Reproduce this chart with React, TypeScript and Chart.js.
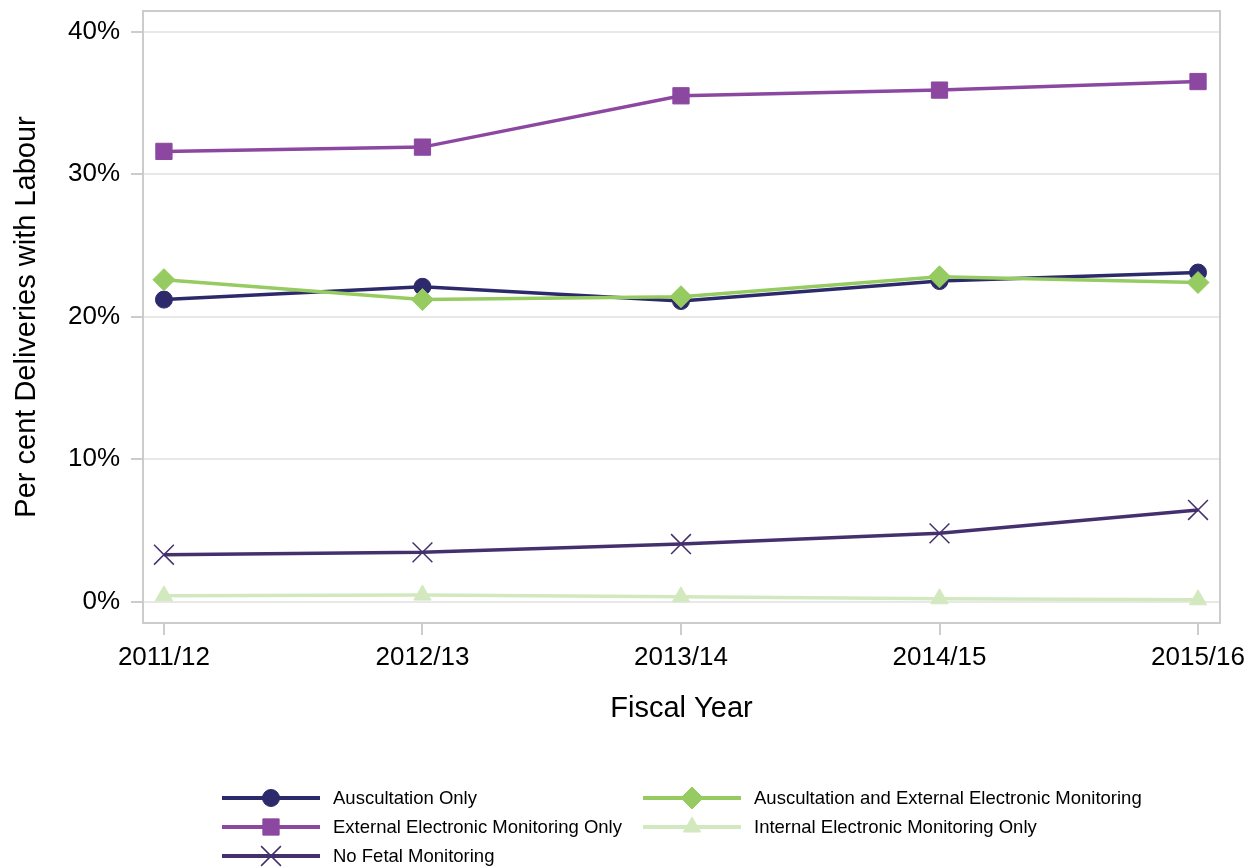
import { useEffect, useRef } from "react";
import { Chart } from "chart.js/auto";
import { drawPoint } from "chart.js/helpers";

const categories = ["2011/12", "2012/13", "2013/14", "2014/15", "2015/16"];
const auscultationOnly = [21.2, 22.1, 21.1, 22.5, 23.1];
const auscAndExternal = [22.6, 21.2, 21.4, 22.8, 22.4];
const externalOnly = [31.6, 31.9, 35.5, 35.9, 36.5];
const internalOnly = [0.42, 0.47, 0.35, 0.21, 0.14];
const noFetal = [3.3, 3.47, 4.05, 4.8, 6.44];
const yTicks = [0, 10, 20, 30, 40];

const FONT = "Liberation Sans, Arial, sans-serif";
const PLOT_TOP = 11;

const toPoints = (vals: number[]) => vals.map((v, i) => ({ x: i, y: v }));

// pin the top of the plot area (chart.js keeps adding label room above it)
const pinTopPlugin = {
  id: "pinTop",
  afterLayout(chart: any) {
    const area = chart.chartArea;
    area.top = PLOT_TOP;
    area.height = area.bottom - PLOT_TOP;
    const y = chart.scales.y;
    y.top = PLOT_TOP;
    y.height = y.bottom - PLOT_TOP;
    y.configure();
  },
};

// draws the plot frame behind the lines
const framePlugin = {
  id: "frame",
  beforeDatasetsDraw(chart: any) {
    const { ctx, chartArea } = chart;
    ctx.save();
    ctx.strokeStyle = "#cccccc";
    ctx.lineWidth = 2;
    ctx.strokeRect(chartArea.left, chartArea.top, chartArea.right - chartArea.left, chartArea.bottom - chartArea.top);
    ctx.restore();
  },
};

// legend laid out in two columns under the axis title
const legendPlugin = {
  id: "bottomLegend",
  afterDraw(chart: any) {
    const { ctx } = chart;
    const slots = [
      { label: "Auscultation Only", col: 0, row: 0 },
      { label: "Auscultation and External Electronic Monitoring", col: 1, row: 0 },
      { label: "External Electronic Monitoring Only", col: 0, row: 1 },
      { label: "Internal Electronic Monitoring Only", col: 1, row: 1 },
      { label: "No Fetal Monitoring", col: 0, row: 2 },
    ];
    const colX = [222, 643];
    ctx.save();
    slots.forEach((s) => {
      const ds = chart.data.datasets.find((d: any) => d.label === s.label);
      if (!ds) return;
      const x0 = colX[s.col];
      const y = 798 + s.row * 29;
      ctx.strokeStyle = ds.borderColor;
      ctx.lineWidth = 4;
      ctx.beginPath();
      ctx.moveTo(x0, y);
      ctx.lineTo(x0 + 98, y);
      ctx.stroke();
      ctx.fillStyle = ds.pointBackgroundColor;
      ctx.strokeStyle = ds.pointBorderColor;
      ctx.lineWidth = ds.pointBorderWidth;
      drawPoint(ctx, { pointStyle: ds.pointStyle, radius: ds.pointRadius, borderWidth: ds.pointBorderWidth, rotation: 0 } as any, x0 + 49, y);
      ctx.fillStyle = "#000000";
      ctx.font = `18.5px ${FONT}`;
      ctx.textBaseline = "middle";
      ctx.textAlign = "left";
      ctx.fillText(s.label, x0 + 111, y + 1);
    });
    ctx.restore();
  },
};

export default function App() {
  const canvasRef = useRef<HTMLCanvasElement | null>(null);
  const chartRef = useRef<Chart | null>(null);

  useEffect(() => {
    if (!canvasRef.current) return;
    if (chartRef.current) chartRef.current.destroy();
    const ctx = canvasRef.current.getContext("2d");
    if (!ctx) return;

    chartRef.current = new Chart(ctx, {
      type: "line",
      data: {
        datasets: [
          {
            label: "Auscultation and External Electronic Monitoring",
            data: toPoints(auscAndExternal),
            borderColor: "#95cb60",
            pointBackgroundColor: "#95cb60",
            pointBorderColor: "#95cb60",
            pointStyle: "rectRot",
            pointRadius: 11,
            pointBorderWidth: 1,
            borderWidth: 3.5,
          },
          {
            label: "Auscultation Only",
            data: toPoints(auscultationOnly),
            borderColor: "#2c2a6b",
            pointBackgroundColor: "#2c2a6b",
            pointBorderColor: "#2c2a6b",
            pointStyle: "circle",
            pointRadius: 8.5,
            pointBorderWidth: 1,
            borderWidth: 3.5,
          },
          {
            label: "External Electronic Monitoring Only",
            data: toPoints(externalOnly),
            borderColor: "#8c48a0",
            pointBackgroundColor: "#8c48a0",
            pointBorderColor: "#8c48a0",
            pointStyle: "rect",
            pointRadius: 11.5,
            pointBorderWidth: 1,
            borderWidth: 3.5,
          },
          {
            label: "Internal Electronic Monitoring Only",
            data: toPoints(internalOnly),
            borderColor: "#d2e9bf",
            pointBackgroundColor: "#d2e9bf",
            pointBorderColor: "#d2e9bf",
            pointStyle: "triangle",
            pointRadius: 10,
            pointBorderWidth: 1,
            borderWidth: 3.5,
          },
          {
            label: "No Fetal Monitoring",
            data: toPoints(noFetal),
            borderColor: "#45306e",
            pointBackgroundColor: "rgba(0,0,0,0)",
            pointBorderColor: "#45306e",
            pointStyle: "crossRot",
            pointRadius: 14,
            pointBorderWidth: 1.5,
            borderWidth: 3.5,
          },
        ],
      },
      options: {
        animation: false,
        responsive: true,
        maintainAspectRatio: false,
        layout: { autoPadding: false, padding: { left: 0, top: PLOT_TOP, right: 36, bottom: 134 } },
        plugins: {
          legend: { display: false },
          tooltip: { enabled: false },
        },
        scales: {
          x: {
            type: "linear",
            min: -0.081,
            max: 4.085,
            afterBuildTicks: (scale: any) => {
              scale.ticks = categories.map((_, i) => ({ value: i }));
            },
            afterFit: (scale: any) => {
              scale.height = 110;
            },
            ticks: {
              callback: (v: any) => categories[v] ?? "",
              color: "#000000",
              padding: 7,
              maxRotation: 0,
              font: { family: FONT, size: 26 },
            },
            grid: {
              drawOnChartArea: false,
              tickLength: 12,
              tickColor: "#cccccc",
              lineWidth: 2,
            },
            border: { display: false },
            title: {
              display: true,
              text: "Fiscal Year",
              color: "#000000",
              padding: { top: 0, bottom: 7 },
              font: { family: FONT, size: 29 },
            },
          },
          y: {
            min: -1.49,
            max: 41.45,
            afterBuildTicks: (scale: any) => {
              scale.ticks = yTicks.map((v) => ({ value: v }));
            },
            afterFit: (scale: any) => {
              scale.width = 143;
            },
            ticks: {
              callback: (v: any) => `${v}%`,
              color: "#000000",
              padding: 11,
              font: { family: FONT, size: 26 },
            },
            grid: {
              color: "#e8e8e8",
              tickColor: "#cccccc",
              tickLength: 12,
              lineWidth: 2,
            },
            border: { display: false },
            title: {
              display: true,
              text: "Per cent Deliveries with Labour",
              color: "#000000",
              padding: { top: 10, bottom: 0 },
              font: { family: FONT, size: 29 },
            },
          },
        },
      },
      plugins: [pinTopPlugin, framePlugin, legendPlugin],
    } as any);

    return () => {
      if (chartRef.current) {
        chartRef.current.destroy();
        chartRef.current = null;
      }
    };
  }, []);

  return (
    <div style={{ position: "absolute", left: 0, top: 0, width: 1256, height: 867, background: "#ffffff" }}>
      <canvas ref={canvasRef} />
    </div>
  );
}
